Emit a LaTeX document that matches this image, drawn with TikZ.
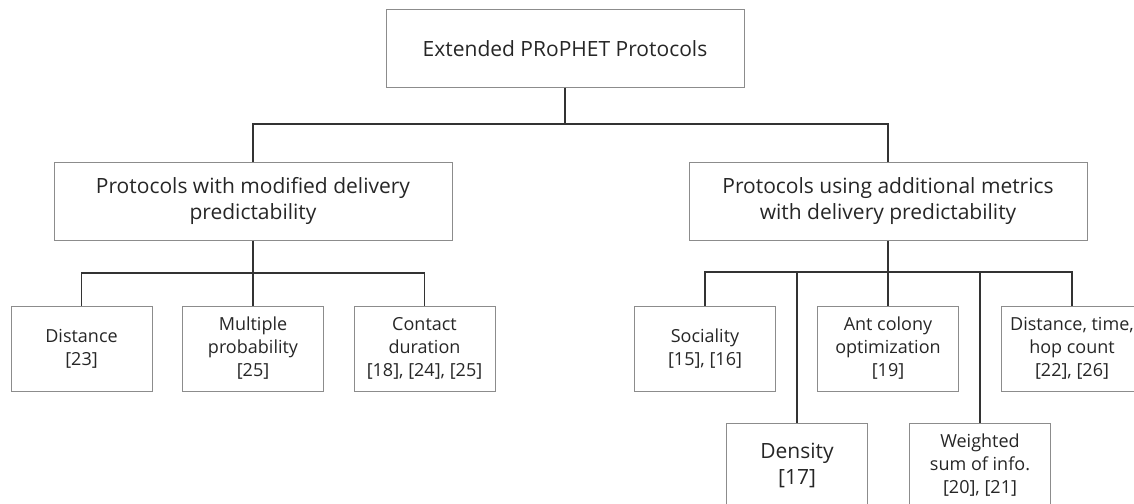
\documentclass[tikz,border=0pt]{standalone}
\usepackage{fontspec}
\setmainfont{Open Sans}
\usepackage{tikz}
\usetikzlibrary{positioning,calc}
\tikzset{
  catbox/.style={draw=black!45,line width=1pt,align=center,text=black!85,
    inner sep=2pt,font=\fontsize{21}{26}\selectfont},
  leafbox/.style={catbox,minimum width=141pt,minimum height=85pt,
    font=\fontsize{18}{23}\selectfont},
  bigleaf/.style={leafbox,font=\fontsize{21}{26}\selectfont},
  tlink/.style={draw=black!80,line width=1.4pt},
}

\begin{document}
\begin{tikzpicture}[x=1pt,y=-1pt]
  \useasboundingbox (0,0) rectangle (1134,503);
  \clip (0,0) rectangle (1134,503);
  % root and the two families
  \node[catbox,minimum width=358pt,minimum height=77pt] (root) at (565,48.5)
    {Extended PRoPHET Protocols};
  \node[catbox,minimum width=398pt,minimum height=78pt] (modp) at (253,201)
    {Protocols with modified delivery\\predictability};
  \node[catbox,minimum width=398pt,minimum height=78pt] (addm) at (888,201)
    {Protocols using additional metrics\\with delivery predictability};
  % leaves
  \foreach \nm/\xx/\txt in {dist/81.5/{Distance\\{[23]}},
      mult/253/{Multiple\\probability\\{[25]}},
      cont/424.5/{Contact\\duration\\{[18], [24], [25]}},
      soc/705/{Sociality\\{[15], [16]}},
      ant/888/{Ant colony\\optimization\\{[19]}},
      dht/1072/{Distance, time,\\hop count\\{[22], [26]}}} {
    \node[leafbox] (\nm) at (\xx,348.5) {\txt};
  }
  \node[bigleaf] (dens) at (797,465.5) {Density\\{[17]}};
  \node[leafbox] (wsum) at (980,465.5) {Weighted\\sum of info.\\{[20], [21]}};
  % connectors
  \coordinate (b0) at (565,124);
  \coordinate (b1) at (253,273);
  \coordinate (b2) at (888,272);
  \draw[tlink] (root.south) -- (b0);
  \draw[tlink] (modp.north) |- (b0) -| (addm.north);
  \draw[tlink] (modp.south) -- (mult.north);
  \draw[tlink] (dist.north) |- (b1) -| (cont.north);
  \draw[tlink] (addm.south) -- (ant.north);
  \draw[tlink] (soc.north) |- (b2) -| (dht.north);
  \draw[tlink] (dens.north) -- (dens.north |- b2);
  \draw[tlink] (wsum.north) -- (wsum.north |- b2);
\end{tikzpicture}
\end{document}
